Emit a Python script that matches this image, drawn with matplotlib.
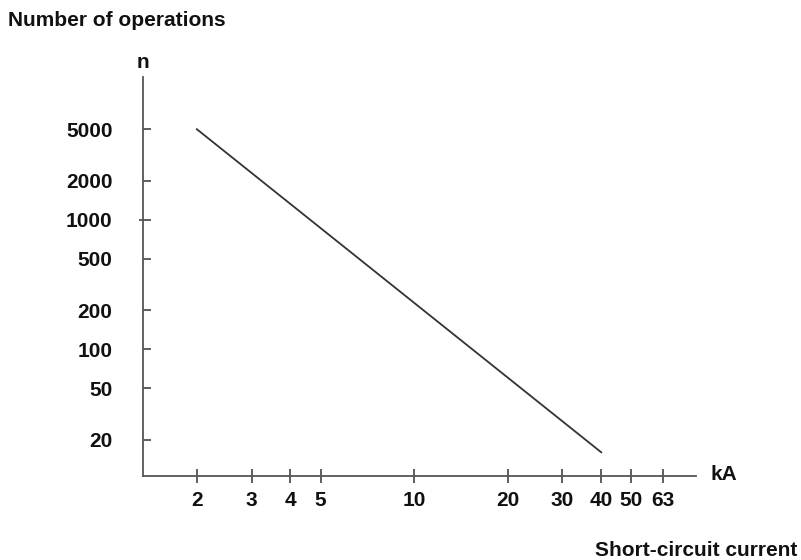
#!/usr/bin/env python3
from __future__ import annotations

import matplotlib

matplotlib.use("Agg")

import matplotlib.pyplot as plt
from matplotlib.ticker import FixedLocator, NullFormatter, NullLocator


# Endurance curve: number of operations vs short-circuit current (log-log)
CURRENT_KA = [2, 40]
OPERATIONS = [5000, 16]

X_TICKS = [2, 3, 4, 5, 10, 20, 30, 40, 50, 63]
X_TICK_LABELS = ["2", "3", "4", "5", "10", "20", "30", "40", "50", "63"]
Y_TICKS = [20, 50, 100, 200, 500, 1000, 2000, 5000]
Y_TICK_LABELS = ["20", "50", "100", "200", "500", "1000", "2000", "5000"]

FONT = ["Liberation Sans", "DejaVu Sans"]
FONT_SIZE = 15
TEXT_COLOR = "#111111"
AXIS_COLOR = "#555555"
LINE_COLOR = "#333333"


def main() -> int:
    plt.rcParams["font.family"] = FONT
    plt.rcParams["font.weight"] = "bold"

    fig = plt.figure(figsize=(8.01, 5.60), dpi=100)
    ax = fig.add_axes([0.1785, 0.15, 0.6904, 0.7125])

    ax.plot(CURRENT_KA, OPERATIONS, color=LINE_COLOR, linewidth=1.3)

    ax.set_xscale("log")
    ax.set_yscale("log")
    ax.set_xlim(1.342, 80.7)
    ax.set_ylim(10.5, 12650)

    ax.set_xticks(X_TICKS, labels=X_TICK_LABELS)
    ax.set_yticks(Y_TICKS, labels=Y_TICK_LABELS)
    ax.xaxis.set_minor_locator(NullLocator())
    # the 1000 tick also pokes out to the left in the original
    ax.yaxis.remove_overlapping_locs = False
    ax.yaxis.set_minor_locator(FixedLocator([1000]))
    ax.yaxis.set_minor_formatter(NullFormatter())

    ax.tick_params(axis="x", which="major", direction="inout", length=10,
                   width=1.1, color="#333333", pad=6, labelsize=FONT_SIZE,
                   labelcolor=TEXT_COLOR)
    ax.tick_params(axis="y", which="major", direction="in", length=5.8,
                   width=1.1, color="#333333", pad=22, labelsize=FONT_SIZE,
                   labelcolor=TEXT_COLOR)
    ax.tick_params(axis="y", which="minor", direction="out", length=3,
                   width=1.1, color="#333333")

    for side in ("top", "right"):
        ax.spines[side].set_visible(False)
    for side in ("left", "bottom"):
        ax.spines[side].set_color(AXIS_COLOR)
        ax.spines[side].set_linewidth(1.3)

    fig.text(8 / 801, 1 - 21 / 560, "Number of operations", fontsize=FONT_SIZE,
             fontweight="bold", color=TEXT_COLOR, ha="left", va="center")
    fig.text(143 / 801, 1 - 63 / 560, "n", fontsize=FONT_SIZE, fontweight="bold",
             color=TEXT_COLOR, ha="center", va="center")
    fig.text(711 / 801, 1 - 474 / 560, "kA", fontsize=FONT_SIZE, fontweight="bold",
             color=TEXT_COLOR, ha="left", va="center")
    fig.text(797 / 801, 1 - 550 / 560, "Short-circuit current", fontsize=FONT_SIZE,
             fontweight="bold", color=TEXT_COLOR, ha="right", va="center")

    fig.savefig("out.png", dpi=100)
    plt.close(fig)
    return 0


if __name__ == "__main__":
    raise SystemExit(main())
